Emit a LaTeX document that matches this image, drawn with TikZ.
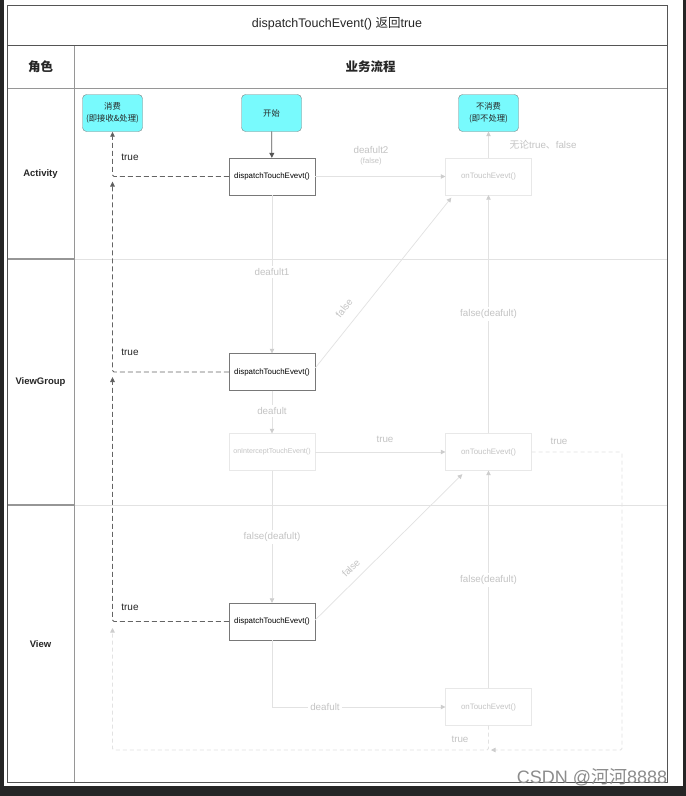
\documentclass[tikz,border=0pt]{standalone}
\usepackage{fontspec}
\setmainfont{Liberation Sans}
\newfontfamily\cjk{Noto Sans CJK SC}
\usetikzlibrary{arrows.meta}
\definecolor{cyanfill}{RGB}{120,250,253}
\definecolor{cyanborder}{RGB}{130,130,130}
\definecolor{darkline}{RGB}{85,85,85}
\definecolor{midline}{RGB}{150,150,150}
\definecolor{faint}{RGB}{226,226,226}
\definecolor{faintbox}{RGB}{232,232,232}
\definecolor{fainttext}{RGB}{196,196,196}
\definecolor{faintarrow}{RGB}{205,205,205}
\definecolor{bgdark}{RGB}{38,38,38}
\definecolor{dashdark}{RGB}{100,100,100}
\definecolor{boxgray}{RGB}{120,120,120}
\begin{document}
\begin{tikzpicture}[x=1pt,y=-1pt,
  cyanbox/.style={draw=cyanborder, fill=cyanfill, rounded corners=4pt, minimum width=60pt, minimum height=37pt, inner sep=0pt, align=center, font=\cjk\fontsize{8.3}{11.5}\selectfont, text=black!85},
  boxdark/.style={draw=boxgray, fill=white, minimum width=86pt, minimum height=37pt, inner sep=0pt, font=\fontsize{7.9}{9}\selectfont, text=black},
  boxlight/.style={draw=faintbox, fill=white, minimum width=86pt, minimum height=37pt, inner sep=0pt, font=\fontsize{7.9}{9}\selectfont, text=fainttext},
  dkarrow/.style={draw=darkline, line width=0.8pt, -{Triangle[length=5pt,width=5pt]}},
  dkdash/.style={draw=dashdark, line width=0.9pt, dash pattern=on 5pt off 3pt, rounded corners=1.5pt, -{Triangle[length=5pt,width=4.5pt,fill=darkline]}},
  ltarrow/.style={draw=faint, line width=0.7pt, -{Triangle[length=4.5pt,width=4.5pt,color=faintarrow]}},
  ltdash/.style={draw=faint, line width=0.8pt, dash pattern=on 4pt off 3pt, rounded corners=1.5pt, -{Triangle[length=4.5pt,width=4.5pt,color=faintarrow]}},
  ltlabel/.style={text=fainttext, font=\fontsize{9.8}{11}\selectfont, inner sep=1pt},
  ltlabelbg/.style={ltlabel, fill=white, inner sep=2pt},
  dklabel/.style={text=black!85, font=\fontsize{10}{11}\selectfont, inner sep=1pt},
  lanelabel/.style={text=black!85, font=\bfseries\fontsize{9.5}{11}\selectfont},
]
% background and bounding box
\fill[bgdark] (0,0) rectangle (686,796);
\fill[white] (4,0) rectangle (683,786);
\useasboundingbox (0,0) rectangle (686,796);

% frame
\draw[faint, line width=0.7pt] (74,259) -- (667,259);
\draw[faint, line width=0.7pt] (74,505) -- (667,505);
\draw[midline, line width=1.2pt] (7,259) -- (74,259);
\draw[midline, line width=1.2pt] (7,505) -- (74,505);
\draw[midline, line width=0.9pt] (7,88) -- (667,88);
\draw[midline, line width=0.9pt] (74,45) -- (74,782);
\draw[darkline, line width=0.9pt] (7,45) -- (667,45);
\draw[darkline, line width=1pt] (7,5) rectangle (667,782);

% headers
\node[text=black!85, font=\fontsize{12.5}{14}\selectfont] (title) at (337,24) {dispatchTouchEvent() {\cjk 返回}true};
\node[text=black!85, font=\cjk\bfseries\fontsize{12.5}{14}\selectfont] (role) at (40.5,67) {角色};
\node[text=black!85, font=\cjk\bfseries\fontsize{12.5}{14}\selectfont] (flow) at (370.5,67) {业务流程};
\node[lanelabel] (lA) at (40.5,174) {Activity};
\node[lanelabel] (lVG) at (40.5,382) {ViewGroup};
\node[lanelabel] (lV) at (40.5,644) {View};

% nodes
\node[cyanbox] (consume) at (112.5,113) {消费\\(即接收\&处理)};
\node[cyanbox] (start) at (271.5,113) {开始};
\node[cyanbox] (notconsume) at (488.5,113) {不消费\\(即不处理)};

\node[boxdark] (dA) at (272,176.5) {dispatchTouchEvevt()};
\node[boxlight] (oA) at (488.5,176.5) {onTouchEvevt()};
\node[boxdark] (dVG) at (272,372) {dispatchTouchEvevt()};
\node[boxlight, font=\fontsize{7.1}{8}\selectfont] (iVG) at (272,452) {onInterceptTouchEvent()};
\node[boxlight] (oVG) at (488.5,452) {onTouchEvevt()};
\node[boxdark] (dV) at (272,621.5) {dispatchTouchEvevt()};
\node[boxlight] (oV) at (488.5,707) {onTouchEvevt()};

% helper coordinates
\coordinate (jA) at (112.5,181.5);
\coordinate (jVG) at (112.5,377);
\coordinate (jV) at (112.5,628);
\coordinate (rB) at (622,750);
\coordinate (mB) at (488.5,750);
\coordinate (mBa) at (491,750);

% light connectors
\draw[ltarrow] (dA) -- (oA);
\draw[ltarrow] (oA) -- (notconsume);
\draw[ltarrow] (dA) -- (dVG);
\draw[ltarrow] ([yshift=4pt]dVG.east) -- ([xshift=6pt,yshift=-2.5pt]oA.south west);
\draw[ltarrow] (oVG) -- (oA);
\draw[ltarrow] (dVG) -- (iVG);
\draw[ltarrow] (iVG) -- (oVG);
\draw[ltarrow] (iVG) -- (dV);
\draw[ltarrow] ([yshift=1.5pt]dV.east) -- ([xshift=17pt,yshift=-3.5pt]oVG.south west);
\draw[ltarrow] (oV) -- (oVG);
\draw[ltarrow] (dV.south) |- (oV.west);
\draw[ltdash] (oVG.east) -| (rB) -- (mBa);
\draw[ltdash] (oV.south) -- (mB) -| (jV);

% dark connectors
\draw[dkarrow] (start) -- (dA);
\draw[dkdash] (dA.west) -| (consume.south);
\draw[dkdash] (dVG.west) -| (jA);
\draw[dkdash] (dV.west) -| (jVG);

% labels
\node[ltlabel] (l1) at (371,150) {deafult2};
\node[ltlabel, font=\fontsize{7.6}{9}\selectfont] (l2) at (371,162) {(false)};
\node[ltlabel] (l3) at (543,145) {{\cjk 无论}true{\cjk 、}false};
\node[ltlabelbg] (l4) at (272,272) {deafult1};
\node[ltlabel, rotate=52, inner sep=0pt] (l5) at (344,308) {false};
\node[ltlabelbg] (l6) at (488.5,314) {false(deafult)};
\node[ltlabelbg] (l7) at (272,411) {deafult};
\node[ltlabel] (l8) at (385,439) {true};
\node[ltlabel] (l9) at (559,441) {true};
\node[ltlabelbg] (l10) at (272,537) {false(deafult)};
\node[ltlabel, rotate=45, inner sep=0pt] (l11) at (351,568) {false};
\node[ltlabelbg] (l12) at (488.5,580) {false(deafult)};
\node[ltlabelbg] (l13) at (325,707) {deafult};
\node[ltlabel] (l14) at (460,739) {true};

\node[dklabel] (t1) at (130,157) {true};
\node[dklabel] (t2) at (130,352) {true};
\node[dklabel] (t3) at (130,607) {true};

% watermark
\node[text=black!45, font=\fontsize{18}{20}\selectfont, inner sep=0pt] (wm) at (592,777) {CSDN @{\cjk 河河}8888};
\end{tikzpicture}
\end{document}
